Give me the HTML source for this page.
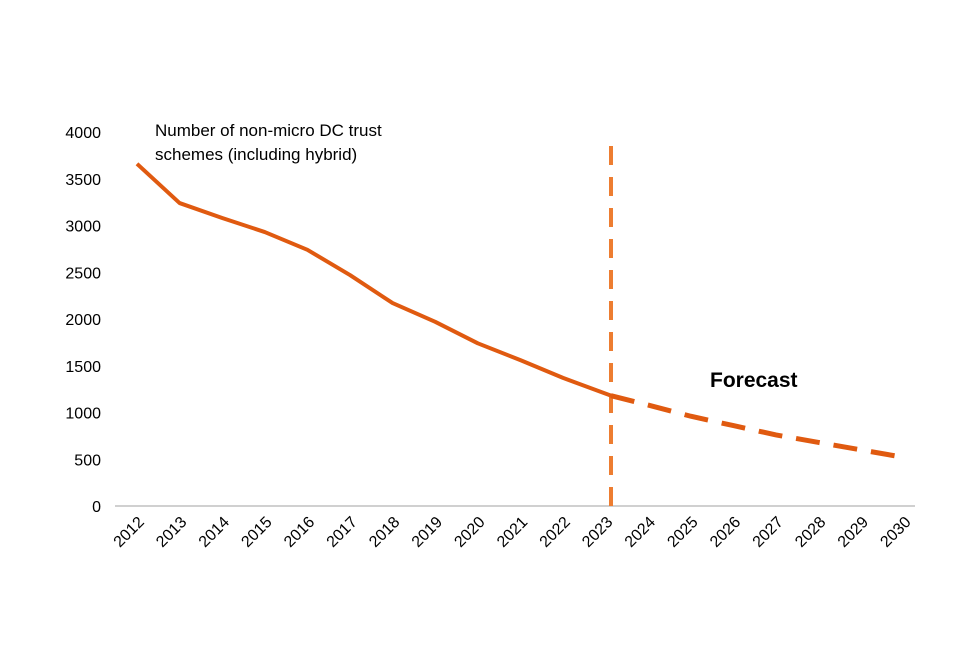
<!DOCTYPE html>
<html><head><meta charset="utf-8"><style>
body{margin:0;background:#fff;font-family:"Liberation Sans",Arial,sans-serif}
</style></head><body>
<svg id="c" width="960" height="640" xmlns="http://www.w3.org/2000/svg"></svg>
<script>
const years=["2012","2013","2014","2015","2016","2017","2018","2019","2020","2021","2022","2023","2024","2025","2026","2027","2028","2029","2030"];
const actual=[3660,3240,3080,2930,2740,2470,2170,1970,1740,1560,1370,1180];
const forecast=[null,null,null,null,null,null,null,null,null,null,null,1180,1080,960,860,760,680,600,520];
const yTicks=[0,500,1000,1500,2000,2500,3000,3500,4000];
const NS="http://www.w3.org/2000/svg";const svg=document.getElementById('c');
const x=i=>137+i*42.6;const y=v=>506-v*374/4000;
function mk(t,a){const e=document.createElementNS(NS,t);for(const k in a)e.setAttribute(k,a[k]);svg.appendChild(e);return e;}
const ax=mk('line',{x1:115,x2:915,y1:506,y2:506,stroke:'#d0d0d0','stroke-width':2});


yTicks.forEach(v=>{const t=mk('text',{x:101,y:y(v)+6,'text-anchor':'end','font-size':16,fill:'#000'});t.textContent=v;

});
years.forEach((yr,i)=>{const t=mk('text',{x:0,y:0,'text-anchor':'end','font-size':16,fill:'#000',transform:`translate(${x(i)+8},${523}) rotate(-45)`});t.textContent=yr;

});
const vx=611;
const vl=mk('line',{x1:vx,x2:vx,y1:146,y2:506,stroke:'#ed7d31','stroke-width':4,'stroke-dasharray':'19,12'});


const p1=mk('polyline',{points:actual.map((v,i)=>(i===11?vx:x(i))+','+y(v)).join(' '),fill:'none',stroke:'#e05a10','stroke-width':4,'stroke-linejoin':'round'});


const fp=[];forecast.forEach((v,i)=>{if(v!==null)fp.push((i===11?vx:x(i))+','+y(v));});
const p2=mk('polyline',{points:fp.join(' '),fill:'none',stroke:'#e05a10','stroke-width':5,'stroke-dasharray':'24,14'});


const l1=mk('text',{x:155,y:136,'font-size':17,fill:'#000'});l1.textContent='Number of non-micro DC trust';


const l2=mk('text',{x:155,y:160,'font-size':17,fill:'#000'});l2.textContent='schemes (including hybrid)';


const f=mk('text',{x:710,y:387,'font-size':21,'font-weight':'bold',fill:'#000'});f.textContent='Forecast';


</script>
</body></html>
